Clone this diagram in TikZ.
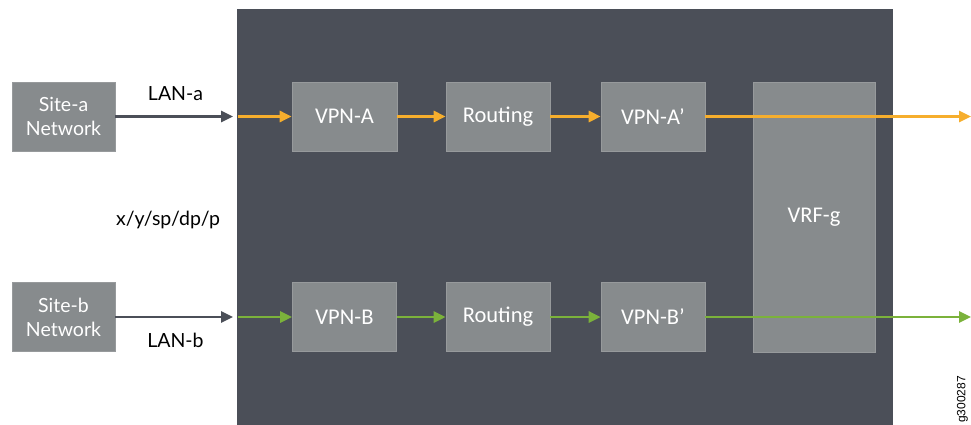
\documentclass[tikz,border=0pt]{standalone}
\usepackage{fontspec}
\setmainfont{Lato}
\newfontfamily\boxfont{Carlito}
\newfontfamily\idfont{Liberation Sans}
\usetikzlibrary{arrows.meta}
\definecolor{panel}{HTML}{4B4F58}
\definecolor{boxgray}{HTML}{878B8D}
\definecolor{boxedge}{HTML}{979A9C}
\definecolor{flowA}{HTML}{F6AE2D}
\definecolor{flowB}{HTML}{7BB23B}
\tikzset{
  blk/.style={fill=boxgray, draw=boxedge, line width=0.6pt, text=white, align=center, inner sep=0pt},
  sitebox/.style={blk, minimum width=103pt, minimum height=69pt, font=\fontsize{19.5}{24}\selectfont},
  funbox/.style={blk, minimum width=104pt, minimum height=69pt, font=\boxfont\fontsize{22.5}{24}\selectfont},
  lbl/.style={text=black, inner sep=0pt, font=\fontsize{19.5}{22}\selectfont},
  flow/.style={line width=2.6pt, -{Triangle[length=12pt,width=11pt]}},
  darkflow/.style={flow, draw=panel},
  aflow/.style={flow, draw=flowA},
  bflow/.style={flow, draw=flowB},
}
\begin{document}
\begin{tikzpicture}[x=1pt,y=-1pt]
\useasboundingbox (0,0) rectangle (971,425);
\fill[panel] (237,9) rectangle (893,430);

\node[sitebox] (sa) at (63.5,116.5) {Site-a\\Network};
\node[sitebox] (sb) at (63.5,317) {Site-b\\Network};

\node[funbox, minimum width=105pt] (vpna) at (344.5,116.5) {VPN-A};
\node[funbox] (rta) at (498,116.5) {Routing};
\node[funbox] (vpnap) at (653,116.5) {VPN-A’};
\node[funbox] (vpnb) at (344.5,317) {VPN-B};
\node[funbox] (rtb) at (498,317) {Routing};
\node[funbox] (vpnbp) at (653,317) {VPN-B’};
\node[funbox, minimum width=122pt, minimum height=270pt] (vrf) at (814,217) {VRF-g};

\coordinate (ina) at (233,116.5);
\coordinate (inb) at (233,317);
\coordinate (pa) at (238,116.5);
\coordinate (pb) at (238,317);
\coordinate (outa) at (971,116.5);
\coordinate (outb) at (971,317);

\draw[darkflow] (sa.east) -- (ina);
\draw[darkflow] (sb.east) -- (inb);
\draw[aflow] (pa) -- (vpna.west);
\draw[aflow] (vpna.east) -- (rta.west);
\draw[aflow] (rta.east) -- (vpnap.west);
\draw[aflow] (vpnap.east) -- (outa);
\draw[bflow] (pb) -- (vpnb.west);
\draw[bflow] (vpnb.east) -- (rtb.west);
\draw[bflow] (rtb.east) -- (vpnbp.west);
\draw[bflow] (vpnbp.east) -- (outb);

\node[lbl] (lana) at (175.5,94) {LAN-a};
\node[lbl] (lanb) at (175.5,340) {LAN-b};
\node[lbl] (tuple) at (168,220) {x/y/sp/dp/p};

\node[rotate=90, anchor=south west, inner sep=0pt, text=black, font=\idfont\fontsize{12}{13}\selectfont] (gid) at (968,423) {g300287};
\end{tikzpicture}
\end{document}
